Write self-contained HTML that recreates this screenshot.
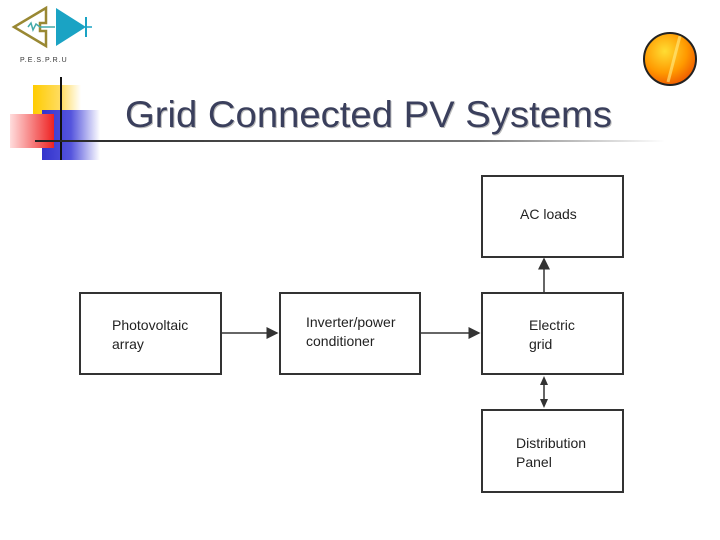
<!DOCTYPE html>
<html><head><style>
body{margin:0;width:720px;height:540px;background:#fff;position:relative;overflow:hidden;font-family:"Liberation Sans",sans-serif}
.a{position:absolute}
.box{position:absolute;border:2px solid #333;box-sizing:border-box;font-size:14px;color:#222;line-height:19px}
</style></head><body>
<svg class="a" style="left:0;top:0" width="720" height="540">
<defs>
<linearGradient id="y" x1="0" x2="1"><stop offset="0" stop-color="#fc0"/><stop offset="0.6" stop-color="#fd6"/><stop offset="1" stop-color="#fff"/></linearGradient>
<linearGradient id="b" x1="0" x2="1"><stop offset="0" stop-color="#33c"/><stop offset="0.5" stop-color="#55d"/><stop offset="1" stop-color="#fff"/></linearGradient>
<linearGradient id="r" x1="1" x2="0"><stop offset="0" stop-color="#e22"/><stop offset="1" stop-color="#fdd"/></linearGradient>
<linearGradient id="l" x1="0" x2="1"><stop offset="0" stop-color="#222"/><stop offset="0.7" stop-color="#777"/><stop offset="1" stop-color="#fff"/></linearGradient>
<radialGradient id="o" cx="0.4" cy="0.35" r="0.7"><stop offset="0" stop-color="#fd3"/><stop offset="0.6" stop-color="#f90"/><stop offset="1" stop-color="#e50"/></radialGradient>
<marker id="ar" markerWidth="8" markerHeight="8" refX="7" refY="4" orient="auto"><path d="M0,0 L8,4 L0,8z" fill="#333"/></marker>
</defs>
<path d="M46,8 L14,27 L46,46 L46,31 L40,31 L40,23 L46,23 Z" fill="none" stroke="#998833" stroke-width="2.5"/>
<path d="M28,27 L31,23 L33,30 L36,24 L40,27 L55,27" fill="none" stroke="#4aa" stroke-width="1.5"/>
<path d="M56,8 L56,46 L86,27 Z" fill="#1aa3c4"/>
<line x1="86" y1="17" x2="86" y2="37" stroke="#1aa3c4" stroke-width="2"/>
<line x1="86" y1="27" x2="92" y2="27" stroke="#1aa3c4" stroke-width="1.5"/>
<text x="20" y="62" font-size="7" font-family="Liberation Sans" fill="#333" letter-spacing="1">P.E.S.P.R.U</text>
<rect x="33" y="85" width="48" height="30" fill="url(#y)"/>
<rect x="42" y="110" width="58" height="50" fill="url(#b)"/>
<rect x="10" y="114" width="44" height="34" fill="url(#r)"/>
<line x1="61" y1="77" x2="61" y2="160" stroke="#111" stroke-width="2"/>
<rect x="35" y="140" width="630" height="2" fill="url(#l)"/>
<circle cx="670" cy="59" r="26" fill="url(#o)" stroke="#222" stroke-width="2"/>
<line x1="680" y1="36" x2="668" y2="82" stroke="#fe8" stroke-width="3" opacity="0.6"/>
<text x="126" y="128" font-size="37" fill="#bbb" font-family="Liberation Sans" textLength="487" lengthAdjust="spacingAndGlyphs">Grid Connected PV Systems</text>
<text x="125" y="127" font-size="37" fill="#3a3f5c" font-family="Liberation Sans" textLength="487" lengthAdjust="spacingAndGlyphs">Grid Connected PV Systems</text>
<line x1="221" y1="333" x2="277" y2="333" stroke="#333" stroke-width="1.5" marker-end="url(#ar)"/>
<line x1="420" y1="333" x2="479" y2="333" stroke="#333" stroke-width="1.5" marker-end="url(#ar)"/>
<line x1="544" y1="292" x2="544" y2="259" stroke="#333" stroke-width="1.5" marker-end="url(#ar)"/>
<line x1="544" y1="384" x2="544" y2="399" stroke="#333" stroke-width="1.5"/>
<path d="M544,376 L540,385 L548,385Z M544,408 L540,399 L548,399Z" fill="#333"/>
</svg>
<div class="box" style="left:79px;top:292px;width:143px;height:83px;padding:22px 0 0 31px">Photovoltaic<br>array</div>
<div class="box" style="left:279px;top:292px;width:142px;height:83px;padding:19px 0 0 25px">Inverter/power<br>conditioner</div>
<div class="box" style="left:481px;top:292px;width:143px;height:83px;padding:22px 0 0 46px">Electric<br>grid</div>
<div class="box" style="left:481px;top:175px;width:143px;height:83px;padding:28px 0 0 37px">AC loads</div>
<div class="box" style="left:481px;top:409px;width:143px;height:84px;padding:23px 0 0 33px">Distribution<br>Panel</div>
</body></html>
